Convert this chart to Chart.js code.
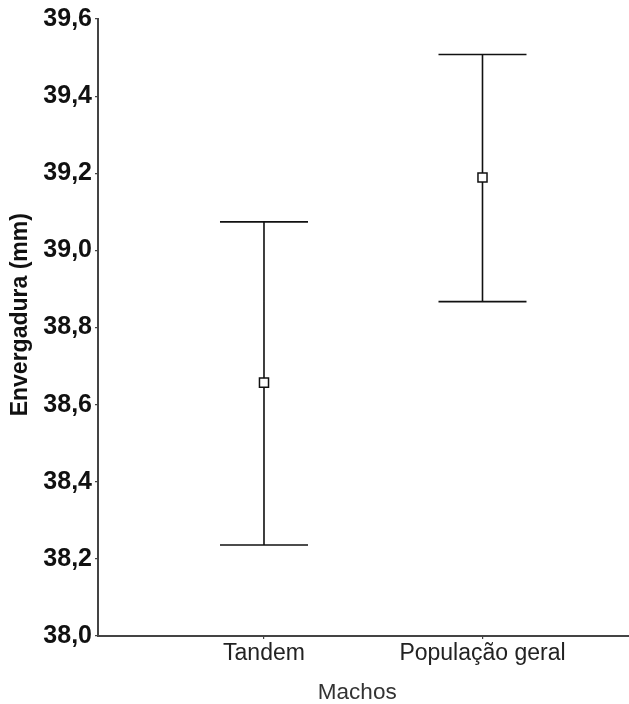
<!DOCTYPE html>
<html>
<head>
<meta charset="utf-8">
<script src="https://cdn.jsdelivr.net/npm/chart.js@4"></script>
<style>
  html, body { margin: 0; padding: 0; background: #ffffff; }
  #wrap { width: 629px; height: 704px; position: relative; }
</style>
</head>
<body>
<div id="wrap"><canvas id="c"></canvas></div>
<script>
// ---- data ----
const categories = ['Tandem', 'População geral'];
const means = [38.657, 39.189];
const upperBounds = [39.074, 39.508];
const lowerBounds = [38.236, 38.867];
const yTickLabels = ['38,0', '38,2', '38,4', '38,6', '38,8', '39,0', '39,2', '39,4', '39,6'];
const xTitle = 'Machos';
const yTitle = 'Envergadura (mm)';

// ---- build datasets from arrays ----
const meanPoints = categories.map((c, i) => ({ x: i + 1, y: means[i] }));
const capPoints = [];
categories.forEach((c, i) => {
  capPoints.push({ x: i + 1, y: upperBounds[i] });
  capPoints.push({ x: i + 1, y: lowerBounds[i] });
});
const whiskerPoints = [];
categories.forEach((c, i) => {
  whiskerPoints.push({ x: i + 1, y: lowerBounds[i] });
  whiskerPoints.push({ x: i + 1, y: upperBounds[i] });
  whiskerPoints.push({ x: i + 1, y: null });
});

const ink = '#111111';
const axisInk = '#444444';

new Chart(document.getElementById('c'), {
  type: 'scatter',
  data: {
    datasets: [
      {
        label: 'mean',
        data: meanPoints,
        pointStyle: 'rect',
        pointRadius: 6.4,
        pointBackgroundColor: '#ffffff',
        pointBorderColor: ink,
        pointBorderWidth: 1.5
      },
      {
        label: 'caps',
        data: capPoints,
        pointStyle: 'line',
        pointRadius: 44,
        pointBorderColor: ink,
        pointBorderWidth: 1.6
      },
      {
        label: 'whiskers',
        data: whiskerPoints,
        showLine: true,
        spanGaps: false,
        pointRadius: 0,
        borderColor: ink,
        borderWidth: 1.6
      }
    ]
  },
  options: {
    responsive: true,
    maintainAspectRatio: false,
    animation: false,
    events: [],
    layout: { autoPadding: false, padding: { top: 19, right: 0, bottom: 0, left: 0 } },
    plugins: {
      legend: { display: false },
      tooltip: { enabled: false }
    },
    scales: {
      x: {
        type: 'linear',
        min: 0.2403,
        max: 2.6705,
        afterBuildTicks: (scale) => {
          scale.ticks = categories.map((c, i) => ({ value: i + 1 }));
        },
        afterFit: (scale) => {
          scale.height = 68;
          scale.paddingLeft = 0;
          scale.paddingRight = 0;
        },
        grid: {
          display: true,
          drawOnChartArea: false,
          drawTicks: true,
          tickLength: 3,
          color: axisInk,
          lineWidth: 1.2
        },
        border: { display: true, color: axisInk, width: 2 },
        ticks: {
          autoSkip: false,
          maxRotation: 0,
          padding: 1,
          color: '#222222',
          font: { family: '"Liberation Sans", Arial, sans-serif', size: 23 },
          callback: (v) => categories[Math.round(v) - 1]
        },
        title: {
          display: true,
          text: xTitle + '  ',
          color: '#333333',
          font: { family: '"Liberation Sans", Arial, sans-serif', size: 22.5, lineHeight: 1 },
          padding: { top: 0, bottom: 0 }
        }
      },
      y: {
        type: 'linear',
        min: 38,
        max: 39.6,
        ticks: {
          stepSize: 0.2,
          padding: 3,
          color: '#111111',
          font: { family: '"Liberation Sans", Arial, sans-serif', size: 25, weight: 'bold' },
          callback: (v, i) => yTickLabels[i]
        },
        afterFit: (scale) => {
          scale.width = 98;
          scale.paddingTop = 0;
          scale.paddingBottom = 0;
        },
        grid: {
          display: true,
          drawOnChartArea: false,
          drawTicks: true,
          tickLength: 3,
          color: axisInk,
          lineWidth: 1.2
        },
        border: { display: true, color: axisInk, width: 2 },
        title: {
          display: true,
          text: '    ' + yTitle,
          color: '#111111',
          font: { family: '"Liberation Sans", Arial, sans-serif', size: 23, weight: 'bold', lineHeight: 1 },
          padding: { top: 9, bottom: 0 }
        }
      }
    }
  }
});
</script>
</body>
</html>
